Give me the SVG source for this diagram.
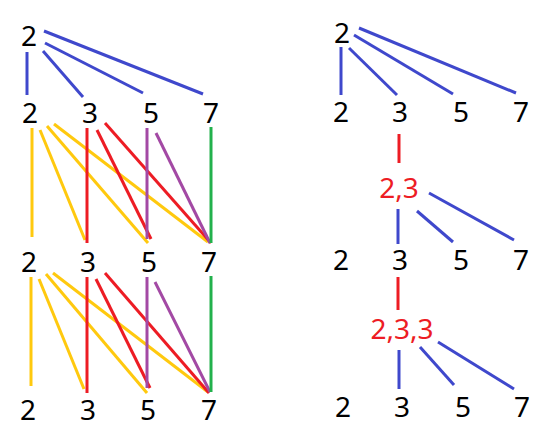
<svg xmlns="http://www.w3.org/2000/svg" width="551" height="444" viewBox="0 0 551 444">
<style>
text{font-family:"Noto Sans","Open Sans","Liberation Sans",sans-serif;font-size:28px;text-anchor:middle;fill:#000}
text.r{fill:#ED1C24}
line{stroke-width:3;stroke-linecap:butt}
.b{stroke:#3F48CC}.y{stroke:#FFC90E}.rd{stroke:#ED1C24}.p{stroke:#A349A4}.g{stroke:#22B14C}
</style>
<rect width="551" height="444" fill="#fff"/>
<g id="connectors">
<line class="b" x1="27" y1="52" x2="27" y2="95"/>
<line class="b" x1="43" y1="51" x2="83" y2="97"/>
<line class="b" x1="45" y1="43" x2="143" y2="93"/>
<line class="b" x1="44" y1="31" x2="203" y2="94"/>
<line class="y" x1="32" y1="128" x2="32" y2="237"/>
<line class="y" x1="40" y1="130" x2="85" y2="240"/>
<line class="y" x1="47" y1="126" x2="148" y2="243"/>
<line class="y" x1="54" y1="124" x2="208" y2="242"/>
<line class="rd" x1="87" y1="128" x2="87" y2="243"/>
<line class="rd" x1="97" y1="130" x2="151" y2="239"/>
<line class="rd" x1="105" y1="123" x2="211" y2="243"/>
<line class="p" x1="147" y1="128" x2="147" y2="239"/>
<line class="p" x1="156" y1="133" x2="210" y2="243"/>
<line class="g" x1="211" y1="127" x2="211" y2="243"/>
<line class="y" x1="31" y1="277" x2="31" y2="386"/>
<line class="y" x1="39" y1="279" x2="84" y2="389"/>
<line class="y" x1="46" y1="274" x2="147" y2="393"/>
<line class="y" x1="53" y1="273" x2="208" y2="392"/>
<line class="rd" x1="87" y1="277" x2="87" y2="393"/>
<line class="rd" x1="96" y1="279" x2="150" y2="388"/>
<line class="rd" x1="105" y1="273" x2="209" y2="393"/>
<line class="p" x1="147" y1="277" x2="147" y2="388"/>
<line class="p" x1="155" y1="282" x2="210" y2="392"/>
<line class="g" x1="211" y1="276" x2="211" y2="392"/>
<line class="b" x1="341" y1="47" x2="341" y2="95"/>
<line class="b" x1="349" y1="48" x2="397" y2="95"/>
<line class="b" x1="354" y1="35" x2="453" y2="94"/>
<line class="b" x1="359" y1="28" x2="516" y2="93"/>
<line class="rd" x1="399" y1="134" x2="399" y2="163"/>
<line class="b" x1="398" y1="209" x2="398" y2="244"/>
<line class="b" x1="417" y1="211" x2="453" y2="242"/>
<line class="b" x1="429" y1="193" x2="514" y2="240"/>
<line class="rd" x1="398" y1="277" x2="398" y2="310"/>
<line class="b" x1="399" y1="350" x2="399" y2="389"/>
<line class="b" x1="420" y1="347" x2="454" y2="385"/>
<line class="b" x1="438" y1="342" x2="514" y2="389"/>
</g>
<g id="left-root"><text x="29" y="46">2</text></g>
<g id="left-row1">
<text x="30" y="123">2</text><text x="90" y="123">3</text><text x="151" y="123">5</text><text x="211" y="123">7</text>
</g>
<g id="left-row2">
<text x="29" y="272">2</text><text x="88" y="272">3</text><text x="149" y="272">5</text><text x="209" y="272">7</text>
</g>
<g id="left-row3">
<text x="28" y="420">2</text><text x="88" y="420">3</text><text x="148" y="420">5</text><text x="209" y="420">7</text>
</g>
<g id="right-root"><text x="342" y="43">2</text></g>
<g id="right-row1">
<text x="341" y="122">2</text><text x="400" y="122">3</text><text x="461" y="122">5</text><text x="521" y="122">7</text>
</g>
<g id="node-2-3"><text class="r" x="399" y="198">2,3</text></g>
<g id="right-row2">
<text x="341" y="270">2</text><text x="400" y="270">3</text><text x="461" y="270">5</text><text x="521" y="270">7</text>
</g>
<g id="node-2-3-3"><text class="r" x="402" y="339">2,3,3</text></g>
<g id="right-row3">
<text x="343" y="417">2</text><text x="402" y="417">3</text><text x="463" y="417">5</text><text x="522" y="417">7</text>
</g>
</svg>
